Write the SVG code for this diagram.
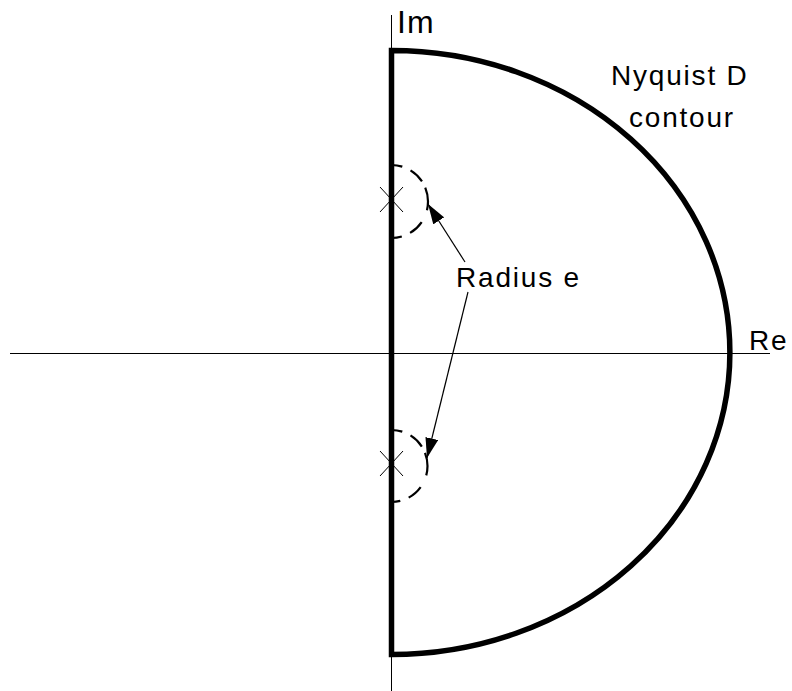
<svg xmlns="http://www.w3.org/2000/svg" width="792" height="691" viewBox="0 0 792 691">
  <style>
    .axis { stroke: #000; stroke-width: 1; fill: none; }
    .thick { stroke: #000; stroke-width: 5.5; fill: none; stroke-linejoin: miter; }
    .dash { stroke: #000; stroke-width: 2.2; fill: none; stroke-dasharray: 11 9 16 7 23 13 16 9 11; }
    .cross { stroke: #000; stroke-width: 1; }
    .conn { stroke: #000; stroke-width: 1.2; fill: none; }
    .lbl { font-family: "Liberation Sans", Arial, sans-serif; font-size: 28px; letter-spacing: 1.8px; fill: #000; }
  </style>
  <defs>
    <marker id="arrow" viewBox="0 0 20 13" refX="20" refY="6.5" markerWidth="20" markerHeight="13" markerUnits="userSpaceOnUse" orient="auto">
      <path d="M0,0 L20,6.5 L0,13 z" fill="#000"/>
    </marker>
  </defs>
  <rect width="792" height="691" fill="#fff"/>

  <g id="axes">
    <line class="axis" x1="10" y1="353.5" x2="770" y2="353.5"/>
    <line class="axis" x1="391.5" y1="15" x2="391.5" y2="691"/>
  </g>

  <g id="nyquist-contour">
    <path class="thick" d="M391.5,50.5 A338.5,302 0 0 1 391.5,654.5 Z"/>
  </g>

  <g id="pole-upper">
    <path class="dash" d="M391.5,165 A36.5,36.5 0 0 1 391.5,238"/>
    <line class="cross" x1="380" y1="187" x2="403" y2="212"/>
    <line class="cross" x1="380" y1="212" x2="403" y2="187"/>
  </g>

  <g id="pole-lower">
    <path class="dash" d="M391.5,430 A36,36 0 0 1 391.5,502"/>
    <line class="cross" x1="380" y1="451" x2="403" y2="476"/>
    <line class="cross" x1="380" y1="476" x2="403" y2="451"/>
  </g>

  <g id="labels">
    <text class="lbl" x="397" y="33" style="font-size:32px;letter-spacing:1px">Im</text>
    <text class="lbl" x="611" y="85">Nyquist D</text>
    <text class="lbl" x="629" y="127">contour</text>
    <text class="lbl" x="456" y="287">Radius e</text>
    <text class="lbl" x="749" y="350">Re</text>
  </g>

  <g id="connectors">
    <line class="conn" x1="465" y1="262" x2="428" y2="204" marker-end="url(#arrow)"/>
    <line class="conn" x1="468" y1="292" x2="427" y2="458" marker-end="url(#arrow)"/>
  </g>
</svg>
